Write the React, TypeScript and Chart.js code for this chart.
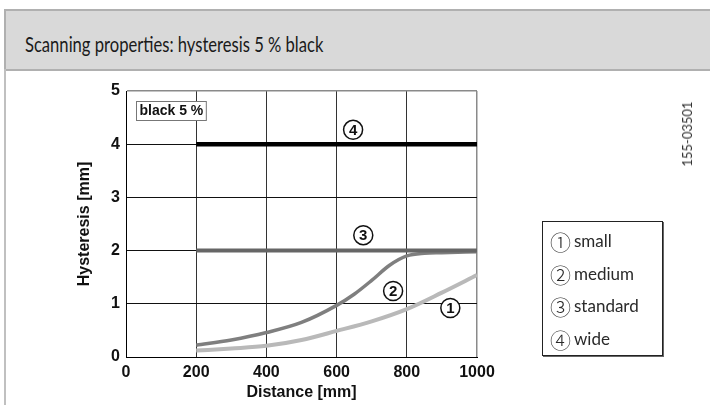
import React, { useEffect, useRef } from "react";
import { Chart, registerables } from "chart.js";

Chart.register(...registerables);

// ---- data ----
const smallDistances = [200, 300, 400, 500, 600, 700, 800, 900, 1000];
const smallValues = [0.12, 0.16, 0.21, 0.32, 0.49, 0.67, 0.9, 1.21, 1.54];

const mediumDistances = [200, 300, 400, 500, 600, 650, 700, 750, 800, 850, 900, 1000];
const mediumValues = [0.22, 0.32, 0.46, 0.65, 0.97, 1.18, 1.44, 1.72, 1.9, 1.95, 1.96, 1.98];

const standardDistances = [200, 1000];
const standardValues = [2, 2];

const wideDistances = [200, 1000];
const wideValues = [4, 4];

const seriesNames = ["small", "medium", "standard", "wide"];
const circledDigits = ["①", "②", "③", "④"];

// callout markers (data units): which series number, distance, hysteresis
const calloutNumbers = ["1", "2", "3", "4"];
const calloutDistances = [924, 761, 676, 647];
const calloutHysteresis = [0.92, 1.24, 2.29, 4.27];

const xTickValues = [0, 200, 400, 600, 800, 1000];
const yTickValues = [0, 1, 2, 3, 4, 5];

const titleText = "Scanning properties: hysteresis 5 % black";
const boxLabel = "black 5 %";
const xTitle = "Distance [mm]";
const yTitle = "Hysteresis [mm]";
const docCode = "155-03501";

const toPoints = (xs: number[], ys: number[]) => xs.map((x, i) => ({ x, y: ys[i] }));

const calloutPlugin = {
  id: "callouts",
  afterDatasetsDraw(chart: any) {
    const { ctx, scales, chartArea } = chart;
    const xs = scales.x;
    const ys = scales.y;
    ctx.save();
    // "black 5 %" box
    ctx.font = "bold 14px 'Liberation Sans', Arial, sans-serif";
    const tw = ctx.measureText(boxLabel).width;
    const bx = chartArea.left + 10.5;
    const by = chartArea.top + 10.5;
    ctx.fillStyle = "#ffffff";
    ctx.fillRect(bx, by, tw + 6, 19);
    ctx.strokeStyle = "#777";
    ctx.lineWidth = 1;
    ctx.strokeRect(bx, by, tw + 6, 19);
    ctx.fillStyle = "#111";
    ctx.textAlign = "left";
    ctx.textBaseline = "middle";
    ctx.fillText(boxLabel, bx + 3, by + 10);

    // circled numbers
    calloutNumbers.forEach((n, i) => {
      const px = xs.getPixelForValue(calloutDistances[i]);
      const py = ys.getPixelForValue(calloutHysteresis[i]);
      ctx.beginPath();
      ctx.arc(px, py, 9.5, 0, Math.PI * 2);
      ctx.fillStyle = "#fff";
      ctx.fill();
      ctx.lineWidth = 1.5;
      ctx.strokeStyle = "#111";
      ctx.stroke();
      ctx.fillStyle = "#111";
      ctx.font = "bold 15px 'Liberation Sans', Arial, sans-serif";
      ctx.textAlign = "center";
      ctx.textBaseline = "middle";
      ctx.fillText(n, px, py + 1);
    });
    ctx.restore();
  },
};

export default function App() {
  const canvasRef = useRef<HTMLCanvasElement | null>(null);

  useEffect(() => {
    if (!canvasRef.current) return;
    const tickFont = { family: "'Liberation Sans', Arial, sans-serif", size: 16, weight: "bold" as const };
    const titleFont = { family: "'Liberation Sans', Arial, sans-serif", size: 16, weight: "bold" as const };
    const chart = new Chart(canvasRef.current, {
      type: "line",
      data: {
        datasets: [
          {
            label: seriesNames[3],
            data: toPoints(wideDistances, wideValues),
            borderColor: "#000000",
            borderWidth: 4.5,
            pointRadius: 0,
            borderCapStyle: "butt",
          },
          {
            label: seriesNames[2],
            data: toPoints(standardDistances, standardValues),
            borderColor: "#666666",
            borderWidth: 4,
            pointRadius: 0,
          },
          {
            label: seriesNames[1],
            data: toPoints(mediumDistances, mediumValues),
            borderColor: "#7f7f7f",
            borderWidth: 3.5,
            pointRadius: 0,
            cubicInterpolationMode: "monotone",
          },
          {
            label: seriesNames[0],
            data: toPoints(smallDistances, smallValues),
            borderColor: "#b9b9b9",
            borderWidth: 4,
            pointRadius: 0,
            cubicInterpolationMode: "monotone",
          },
        ],
      },
      options: {
        animation: false,
        responsive: false,
        devicePixelRatio: 1,
        layout: { padding: { top: 91, right: 233, left: 0, bottom: 0 } },
        plugins: { legend: { display: false }, tooltip: { enabled: false } },
        scales: {
          x: {
            type: "linear",
            min: 0,
            max: 1000,
            afterBuildTicks: (s: any) => {
              s.ticks = xTickValues.map((v) => ({ value: v }));
            },
            afterFit: (s: any) => {
              s.height = 48;
            },
            ticks: {
              font: tickFont,
              color: "#111",
              padding: 6,
              maxRotation: 0,
              callback: (v: any) => String(v),
            },
            grid: {
              drawTicks: false,
              color: (c: any) => (c.tick && c.tick.value === 1000 ? "#8a8a8a" : "#333"),
              lineWidth: (c: any) => (c.tick && c.tick.value === 1000 ? 1.5 : 1),
            },
            border: { color: "#000", width: 1 },
            title: { display: true, text: xTitle, font: titleFont, color: "#111", padding: { top: 0, bottom: 3 } },
          },
          y: {
            type: "linear",
            min: 0,
            max: 5,
            afterBuildTicks: (s: any) => {
              s.ticks = yTickValues.map((v) => ({ value: v }));
            },
            afterFit: (s: any) => {
              s.width = 126;
            },
            ticks: { font: tickFont, color: "#111", padding: 6, callback: (v: any) => String(v) },
            grid: {
              drawTicks: false,
              color: (c: any) => (c.tick && c.tick.value === 5 ? "#8a8a8a" : "#111"),
              lineWidth: (c: any) => (c.tick && c.tick.value === 5 ? 1.5 : 1),
            },
            border: { color: "#000", width: 1 },
            title: { display: true, text: yTitle, font: titleFont, color: "#111", padding: { top: 75, bottom: 0 } },
          },
        },
      },
      plugins: [calloutPlugin],
    });
    return () => chart.destroy();
  }, []);

  return (
    <div style={{ position: "absolute", left: 0, top: 0, width: 710, height: 405, background: "#fff", overflow: "hidden" }}>
      <div
        style={{
          position: "absolute",
          left: 4,
          top: 9,
          width: 706,
          height: 58,
          background: "#d9d9d9",
          borderTop: "2px solid #b0b0b0",
          borderBottom: "2px solid #b0b0b0",
          borderLeft: "2px solid #b0b0b0",
        }}
      />
      <div style={{ position: "absolute", left: 4, top: 69, width: 2, height: 336, background: "#c0c0c0" }} />
      <div
        style={{
          position: "absolute",
          left: 25,
          top: 31,
          fontFamily: "Lato, 'Open Sans', sans-serif",
          fontSize: 21,
          color: "#1a1a1a",
          whiteSpace: "nowrap",
          lineHeight: "26px",
          transform: "scaleX(0.79)",
          transformOrigin: "left center",
        }}
      >
        {titleText}
      </div>
      <canvas ref={canvasRef} width={710} height={405} style={{ position: "absolute", left: 0, top: 0 }} />
      <div
        style={{
          position: "absolute",
          left: 687,
          top: 134,
          transform: "translate(-50%, -50%) rotate(-90deg)",
          fontFamily: "Lato, 'Open Sans', sans-serif",
          fontSize: 13,
          color: "#333",
          whiteSpace: "nowrap",
        }}
      >
        {docCode}
      </div>
      <div
        style={{
          position: "absolute",
          left: 542,
          top: 221,
          width: 121,
          height: 135,
          border: "1px solid #222",
          boxShadow: "1px 1px 0 #666",
          background: "#fff",
          boxSizing: "border-box",
          paddingTop: 3,
          paddingLeft: 7,
          fontFamily: "Lato, 'Noto Sans CJK JP', 'DejaVu Sans', sans-serif",
          fontSize: 17,
          color: "#2a2a2a",
        }}
      >
        {seriesNames.map((name, i) => (
          <div key={name} style={{ height: 32.5, lineHeight: "32.5px", whiteSpace: "nowrap", display: "flex", alignItems: "center" }}>
            <span
              style={{
                fontFamily: "'Noto Sans CJK JP', 'DejaVu Sans', sans-serif",
                fontSize: 21,
                fontWeight: 300,
                lineHeight: "32.5px",
                display: "inline-block",
                width: 22,
              }}
            >
              {circledDigits[i]}
            </span>
            <span style={{ marginLeft: 2 }}>{name}</span>
          </div>
        ))}
      </div>
    </div>
  );
}
